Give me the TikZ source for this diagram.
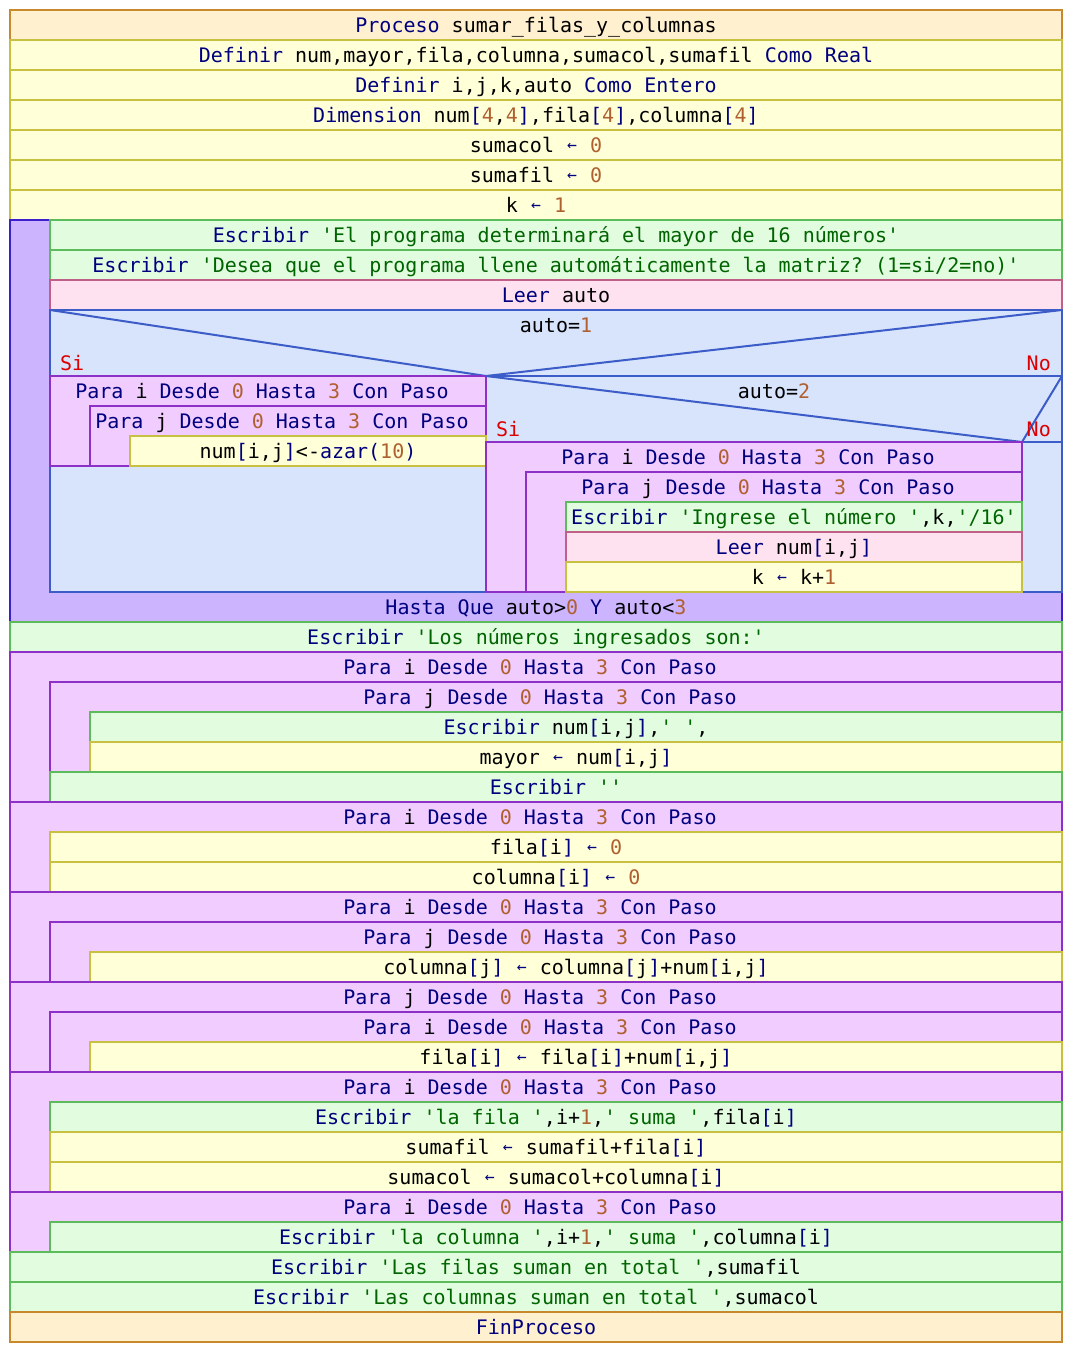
\documentclass[tikz,border=0pt]{standalone}
\usepackage{fontspec}
\setmonofont{DejaVu Sans Mono}
\usetikzlibrary{calc}

% syntax colours
\definecolor{kwc}{HTML}{00007F}
\definecolor{strc}{HTML}{006400}
\definecolor{numc}{HTML}{B06030}
\definecolor{brc}{HTML}{DD0000}
% block colours
\definecolor{procF}{HTML}{FFF0CF}\definecolor{procD}{HTML}{C8882C}
\definecolor{asgF}{HTML}{FFFFD8}\definecolor{asgD}{HTML}{C8C040}
\definecolor{wrtF}{HTML}{E2FCE0}\definecolor{wrtD}{HTML}{5CBC5C}
\definecolor{rdF}{HTML}{FFE2F0}\definecolor{rdD}{HTML}{C06088}
\definecolor{forF}{HTML}{F0CCFF}\definecolor{forD}{HTML}{8C30C8}
\definecolor{ifF}{HTML}{D8E4FC}\definecolor{ifD}{HTML}{3C5CC8}
\definecolor{repF}{HTML}{CCB4FF}\definecolor{repD}{HTML}{3C20D0}

\newcommand\K[1]{\textcolor{kwc}{#1}}
\newcommand\St[1]{\textcolor{strc}{#1}}
\newcommand\N[1]{\textcolor{numc}{#1}}
\newcommand\la{\textcolor{kwc}{\makebox[0.602em]{\raisebox{0.07em}{\scalebox{0.82}{←}}}}}
\newcommand\forsp{\phantom{x}}

% block: style, name, x1, y1, x2, y2, text (text sits in the top 30px row)
\newcommand\blk[7]{%
  \draw[#1] (#3,#4) rectangle (#5,#6);
  \node[lbl] (#2) at ({(#3+#5)/2},{#4+22}) {#7};
}

\tikzset{
  lbl/.style={anchor=base, inner sep=0pt, font=\ttfamily\fontsize{20}{24}\selectfont},
  tag/.style={inner sep=0pt, text=brc, font=\ttfamily\fontsize{20}{24}\selectfont},
  proc/.style={fill=procF, draw=procD, line width=2pt},
  asg/.style={fill=asgF, draw=asgD, line width=2pt},
  wrt/.style={fill=wrtF, draw=wrtD, line width=2pt},
  rd/.style={fill=rdF, draw=rdD, line width=2pt},
  loopfor/.style={fill=forF, draw=forD, line width=2pt},
  cond/.style={fill=ifF, draw=ifD, line width=2pt},
  condline/.style={draw=ifD, line width=2pt},
  rep/.style={fill=repF, draw=repD, line width=2pt},
}

\begin{document}
\begin{tikzpicture}[x=1pt,y=-1pt]
\useasboundingbox[fill=white] (0,0) rectangle (1072,1352);

\blk{proc}{p0}{10}{10}{1062}{40}{\K{Proceso} sumar\_filas\_y\_columnas}
\blk{asg}{d1}{10}{40}{1062}{70}{\K{Definir} num,mayor,fila,columna,sumacol,sumafil \K{Como} \K{Real}}
\blk{asg}{d2}{10}{70}{1062}{100}{\K{Definir} i,j,k,auto \K{Como} \K{Entero}}
\blk{asg}{d3}{10}{100}{1062}{130}{\K{Dimension} num\K{[}\N{4},\N{4}\K{]},fila\K{[}\N{4}\K{]},columna\K{[}\N{4}\K{]}}
\blk{asg}{a1}{10}{130}{1062}{160}{sumacol \la{} \N{0}}
\blk{asg}{a2}{10}{160}{1062}{190}{sumafil \la{} \N{0}}
\blk{asg}{a3}{10}{190}{1062}{220}{k \la{} \N{1}}

% Repetir ... Hasta Que
\draw[rep] (10,220) rectangle (1062,622);
\node[lbl] (until) at (536,614) {\K{Hasta Que} auto>\N{0} \K{Y} auto<\N{3}};
\blk{wrt}{w1}{50}{220}{1062}{250}{\K{Escribir} \St{'El programa determinará el mayor de 16 números'}}
\blk{wrt}{w2}{50}{250}{1062}{280}{\K{Escribir} \St{'Desea que el programa llene automáticamente la matriz? (1=si/2=no)'}}
\blk{rd}{r1}{50}{280}{1062}{310}{\K{Leer} auto}

% Si auto=1
\blk{cond}{c1}{50}{310}{1062}{592}{auto=\N{1}}
\draw[condline] (50,310) -- (486,376) -- (1062,310);
\node[tag, anchor=base west] (c1si) at (60,370) {Si};
\node[tag, anchor=base east] (c1no) at (1051,370) {No};

% left branch
\blk{loopfor}{f1}{50}{376}{486}{466}{\K{Para} i \K{Desde} \N{0} \K{Hasta} \N{3} \K{Con} \K{Paso}\forsp}
\blk{loopfor}{f2}{90}{406}{486}{466}{\K{Para} j \K{Desde} \N{0} \K{Hasta} \N{3} \K{Con} \K{Paso}\forsp}
\blk{asg}{a4}{130}{436}{486}{466}{num\K{[}i,j\K{]}<-\K{azar(}\N{10}\K{)}}

% right branch: Si auto=2
\node[lbl] (c2) at (774,398) {auto=\N{2}};
\draw[condline] (486,376) -- (1062,376);
\draw[condline] (486,376) -- (1022,442) -- (1062,376);
\draw[condline] (1022,442) -- (1062,442);
\node[tag, anchor=base west] (c2si) at (496,436) {Si};
\node[tag, anchor=base east] (c2no) at (1051,436) {No};
\blk{loopfor}{f3}{486}{442}{1022}{592}{\K{Para} i \K{Desde} \N{0} \K{Hasta} \N{3} \K{Con} \K{Paso}\forsp}
\blk{loopfor}{f4}{526}{472}{1022}{592}{\K{Para} j \K{Desde} \N{0} \K{Hasta} \N{3} \K{Con} \K{Paso}\forsp}
\blk{wrt}{w3}{566}{502}{1022}{532}{\K{Escribir} \St{'Ingrese el número '},k,\St{'/16'}}
\blk{rd}{r2}{566}{532}{1022}{562}{\K{Leer} num\K{[}i,j\K{]}}
\blk{asg}{a5}{566}{562}{1022}{592}{k \la{} k+\N{1}}

\blk{wrt}{w4}{10}{622}{1062}{652}{\K{Escribir} \St{'Los números ingresados son:'}}

\blk{loopfor}{f5}{10}{652}{1062}{802}{\K{Para} i \K{Desde} \N{0} \K{Hasta} \N{3} \K{Con} \K{Paso}\forsp}
\blk{loopfor}{f6}{50}{682}{1062}{772}{\K{Para} j \K{Desde} \N{0} \K{Hasta} \N{3} \K{Con} \K{Paso}\forsp}
\blk{wrt}{w5}{90}{712}{1062}{742}{\K{Escribir} num\K{[}i,j\K{]},\St{' '},}
\blk{asg}{a6}{90}{742}{1062}{772}{mayor \la{} num\K{[}i,j\K{]}}
\blk{wrt}{w6}{50}{772}{1062}{802}{\K{Escribir} \St{''}}

\blk{loopfor}{f7}{10}{802}{1062}{892}{\K{Para} i \K{Desde} \N{0} \K{Hasta} \N{3} \K{Con} \K{Paso}\forsp}
\blk{asg}{a7}{50}{832}{1062}{862}{fila\K{[}i\K{]} \la{} \N{0}}
\blk{asg}{a8}{50}{862}{1062}{892}{columna\K{[}i\K{]} \la{} \N{0}}

\blk{loopfor}{f8}{10}{892}{1062}{982}{\K{Para} i \K{Desde} \N{0} \K{Hasta} \N{3} \K{Con} \K{Paso}\forsp}
\blk{loopfor}{f9}{50}{922}{1062}{982}{\K{Para} j \K{Desde} \N{0} \K{Hasta} \N{3} \K{Con} \K{Paso}\forsp}
\blk{asg}{a9}{90}{952}{1062}{982}{columna\K{[}j\K{]} \la{} columna\K{[}j\K{]}+num\K{[}i,j\K{]}}

\blk{loopfor}{f10}{10}{982}{1062}{1072}{\K{Para} j \K{Desde} \N{0} \K{Hasta} \N{3} \K{Con} \K{Paso}\forsp}
\blk{loopfor}{f11}{50}{1012}{1062}{1072}{\K{Para} i \K{Desde} \N{0} \K{Hasta} \N{3} \K{Con} \K{Paso}\forsp}
\blk{asg}{a10}{90}{1042}{1062}{1072}{fila\K{[}i\K{]} \la{} fila\K{[}i\K{]}+num\K{[}i,j\K{]}}

\blk{loopfor}{f12}{10}{1072}{1062}{1192}{\K{Para} i \K{Desde} \N{0} \K{Hasta} \N{3} \K{Con} \K{Paso}\forsp}
\blk{wrt}{w7}{50}{1102}{1062}{1132}{\K{Escribir} \St{'la fila '},i+\N{1},\St{' suma '},fila\K{[}i\K{]}}
\blk{asg}{a11}{50}{1132}{1062}{1162}{sumafil \la{} sumafil+fila\K{[}i\K{]}}
\blk{asg}{a12}{50}{1162}{1062}{1192}{sumacol \la{} sumacol+columna\K{[}i\K{]}}

\blk{loopfor}{f13}{10}{1192}{1062}{1252}{\K{Para} i \K{Desde} \N{0} \K{Hasta} \N{3} \K{Con} \K{Paso}\forsp}
\blk{wrt}{w8}{50}{1222}{1062}{1252}{\K{Escribir} \St{'la columna '},i+\N{1},\St{' suma '},columna\K{[}i\K{]}}

\blk{wrt}{w9}{10}{1252}{1062}{1282}{\K{Escribir} \St{'Las filas suman en total '},sumafil}
\blk{wrt}{w10}{10}{1282}{1062}{1312}{\K{Escribir} \St{'Las columnas suman en total '},sumacol}
\blk{proc}{p1}{10}{1312}{1062}{1342}{\K{FinProceso}}
\end{tikzpicture}
\end{document}
